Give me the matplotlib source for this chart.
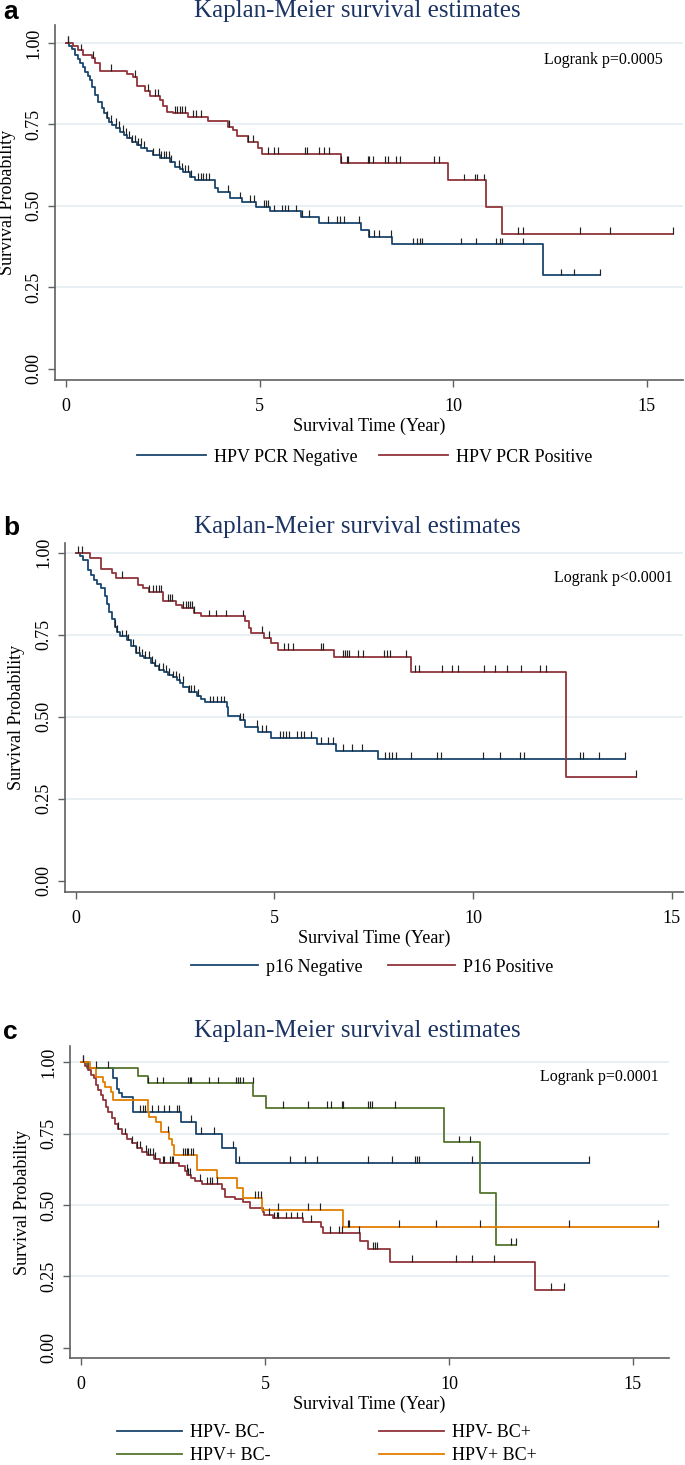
import numpy as np
import matplotlib
matplotlib.use('Agg')
import matplotlib.pyplot as plt

# ---- panel a : HPV PCR ----
a_neg_t = [0.08, 0.15, 0.23, 0.30, 0.37, 0.43, 0.49, 0.56, 0.62, 0.68, 0.75, 0.83, 0.92, 0.98, 1.05,
           1.12, 1.18, 1.29, 1.40, 1.49, 1.57, 1.70, 1.83, 1.95, 2.08, 2.25, 2.43, 2.69, 2.82, 2.95,
           3.03, 3.20, 3.33, 3.85, 3.92, 4.24, 4.55, 4.91, 5.26, 6.08, 6.54, 7.62, 7.82, 8.41, 12.32]
a_neg_s = [0.990, 0.980, 0.963, 0.950, 0.938, 0.925, 0.912, 0.900, 0.887, 0.864, 0.840, 0.820, 0.800,
           0.785, 0.769, 0.758, 0.748, 0.738, 0.728, 0.718, 0.708, 0.697, 0.687, 0.677, 0.667, 0.656,
           0.646, 0.636, 0.620, 0.612, 0.605, 0.590, 0.580, 0.555, 0.544, 0.523, 0.513, 0.498, 0.483,
           0.467, 0.447, 0.426, 0.406, 0.382, 0.287]
a_neg_end = 13.80
a_neg_cens = [0.05, 1.05, 1.15, 1.28, 1.36, 1.48, 1.56, 1.63, 1.71, 1.79, 1.87, 1.94, 2.01, 2.25, 2.40,
              2.46, 2.52, 2.59, 2.65, 2.71, 2.91, 2.99, 3.07, 3.14, 3.22, 3.40, 3.48, 3.55, 3.62, 3.69,
              4.19, 4.50, 4.75, 4.86, 5.11, 5.16, 5.21, 5.37, 5.57, 5.65, 5.73, 5.93, 6.10, 6.29, 6.78,
              7.00, 7.08, 7.17, 7.57, 7.84, 7.97, 8.08, 8.40, 8.97, 9.07, 9.15, 9.20, 10.20, 10.58,
              11.12, 11.20, 11.27, 11.81, 12.78, 13.12, 13.80]

a_pos_t = [0.19, 0.32, 0.45, 0.66, 0.75, 0.88, 1.57, 1.74, 1.83, 2.04, 2.17, 2.43, 2.51, 2.60, 2.77,
           3.16, 3.68, 4.19, 4.32, 4.41, 4.70, 4.96, 5.06, 7.10, 9.87, 10.84, 11.27]
a_pos_s = [0.991, 0.977, 0.963, 0.953, 0.938, 0.915, 0.905, 0.897, 0.868, 0.852, 0.838, 0.825, 0.805,
           0.789, 0.784, 0.772, 0.759, 0.743, 0.733, 0.713, 0.697, 0.677, 0.660, 0.633, 0.578, 0.496,
           0.414]
a_pos_end = 15.69
a_pos_cens = [0.05, 0.38, 0.71, 1.17, 1.79, 2.12, 2.30, 2.38, 2.81, 2.88, 2.94, 3.00, 3.07, 3.27, 3.37,
              3.48, 4.22, 4.70, 4.83, 5.21, 5.37, 5.47, 6.18, 6.22, 6.54, 6.67, 6.80, 7.11, 7.26, 7.29,
              7.80, 7.84, 7.92, 8.23, 8.31, 8.52, 8.64, 9.51, 9.64, 10.27, 10.56, 10.63, 10.81, 11.68,
              11.81, 13.27, 14.06, 15.69]

# ---- panel b : p16 ----
b_neg_t = [0.10, 0.19, 0.30, 0.38, 0.46, 0.55, 0.63, 0.74, 0.80, 0.85, 0.92, 0.98, 1.05, 1.12, 1.29,
           1.40, 1.51, 1.62, 1.73, 1.89, 2.00, 2.11, 2.22, 2.33, 2.44, 2.55, 2.63, 2.71, 2.85, 3.05,
           3.15, 3.26, 3.82, 3.84, 4.14, 4.25, 4.58, 4.92, 6.07, 6.56, 7.61]
b_neg_s = [0.990, 0.979, 0.948, 0.933, 0.918, 0.905, 0.892, 0.867, 0.845, 0.821, 0.798, 0.775, 0.760,
           0.745, 0.733, 0.715, 0.696, 0.687, 0.679, 0.664, 0.654, 0.643, 0.636, 0.628, 0.620, 0.613,
           0.602, 0.592, 0.577, 0.564, 0.554, 0.544, 0.531, 0.503, 0.491, 0.470, 0.455, 0.435, 0.417,
           0.397, 0.372]
b_neg_end = 13.82
b_neg_cens = [0.05, 0.99, 1.05, 1.18, 1.27, 1.31, 1.45, 1.53, 1.59, 1.67, 1.75, 1.84, 1.92, 2.00, 2.11,
              2.19, 2.28, 2.36, 2.44, 2.52, 2.60, 2.69, 2.85, 2.91, 2.99, 3.07, 3.38, 3.46, 3.55, 3.65,
              3.73, 4.14, 4.22, 4.56, 4.69, 4.80, 5.13, 5.22, 5.30, 5.37, 5.57, 5.66, 5.74, 5.92, 6.18,
              6.34, 6.47, 6.73, 6.95, 7.20, 7.79, 7.88, 7.97, 8.05, 8.43, 9.09, 9.20, 10.25, 10.68,
              11.18, 11.27, 12.69, 12.77, 13.16, 13.82]

b_pos_t = [0.35, 0.63, 0.92, 1.01, 1.56, 1.70, 1.84, 2.19, 2.52, 2.68, 2.99, 3.15, 4.25, 4.36, 4.40,
           4.75, 4.92, 5.08, 6.51, 8.43, 12.33]
b_pos_s = [0.984, 0.950, 0.938, 0.923, 0.902, 0.892, 0.882, 0.852, 0.841, 0.831, 0.816, 0.806, 0.791,
           0.770, 0.757, 0.740, 0.725, 0.704, 0.682, 0.636, 0.318]
b_pos_end = 14.09
b_pos_cens = [0.17, 1.18, 1.84, 1.95, 2.03, 2.11, 2.14, 2.33, 2.38, 2.42, 2.71, 2.77, 2.82, 2.88, 2.94,
              2.99, 3.35, 3.54, 3.79, 4.20, 4.69, 4.86, 5.24, 5.35, 5.46, 6.18, 6.23, 6.73, 6.78, 6.84,
              6.89, 7.11, 7.22, 7.77, 7.83, 7.91, 8.30, 8.54, 8.63, 9.22, 9.48, 9.61, 10.28, 10.55,
              10.85, 11.21, 11.68, 11.84, 14.09]

# ---- panel c : HPV x BC ----
c_nn_t = [0.18, 0.86, 0.97, 1.04, 1.10, 1.40, 2.72, 3.125, 3.84, 4.20]
c_nn_s = [0.978, 0.943, 0.906, 0.890, 0.877, 0.826, 0.789, 0.748, 0.700, 0.648]
c_nn_end = 13.80
c_nn_cens = [0.72, 1.60, 1.68, 1.74, 1.92, 2.08, 2.26, 2.39, 2.60, 2.67, 2.98, 3.25, 3.61, 4.14, 4.30,
             5.68, 6.09, 6.42, 7.79, 8.45, 9.08, 9.14, 9.19, 10.62, 13.80]

c_np_t = [0.12, 0.20, 0.26, 0.34, 0.41, 0.47, 0.54, 0.61, 0.68, 0.74, 0.83, 0.92, 1.01, 1.10, 1.24,
          1.38, 1.51, 1.65, 1.79, 1.97, 2.15, 2.65, 2.83, 2.89, 2.98, 3.10, 3.28, 3.82, 3.91, 4.18,
          4.41, 4.59, 4.94, 4.96, 5.23, 6.04, 6.51, 6.57, 7.58, 7.81, 8.41, 12.34]
c_np_s = [0.985, 0.972, 0.955, 0.943, 0.920, 0.902, 0.885, 0.867, 0.844, 0.826, 0.803, 0.782, 0.766,
          0.747, 0.731, 0.716, 0.700, 0.686, 0.675, 0.660, 0.646, 0.638, 0.619, 0.605, 0.596, 0.584,
          0.573, 0.556, 0.529, 0.521, 0.511, 0.490, 0.476, 0.465, 0.453, 0.442, 0.424, 0.401, 0.374,
          0.346, 0.302, 0.203]
c_np_end = 13.12
c_np_cens = [0.05, 1.01, 1.20, 1.38, 1.51, 1.60, 1.77, 1.83, 1.87, 1.96, 2.01, 2.22, 2.26, 2.42, 2.46,
             2.51, 2.87, 2.92, 2.96, 3.23, 3.43, 3.50, 3.55, 3.69, 5.12, 5.25, 5.32, 5.36, 5.57, 5.72,
             5.86, 6.00, 6.25, 6.77, 7.00, 7.08, 7.56, 7.93, 7.99, 8.05, 8.99, 10.19, 10.62, 11.22,
             12.76, 13.12]

c_pn_t = [0.15, 1.56, 1.81, 4.68, 5.03, 9.87, 10.84, 11.27]
c_pn_s = [0.978, 0.952, 0.925, 0.882, 0.840, 0.719, 0.541, 0.360]
c_pn_end = 11.82
c_pn_cens = [0.05, 0.41, 1.82, 2.06, 2.24, 2.92, 2.96, 3.00, 3.49, 3.73, 4.20, 4.27, 4.33, 4.39, 4.67,
             5.48, 6.18, 6.68, 6.79, 7.08, 7.11, 7.81, 7.85, 7.90, 8.53, 10.28, 10.57, 11.68, 11.82]

c_pp_t = [0.24, 0.41, 0.61, 0.65, 0.81, 0.88, 1.81, 1.86, 2.04, 2.17, 2.40, 2.46, 2.54, 3.14, 3.69,
          4.23, 4.41, 4.93, 7.11]
c_pp_s = [0.980, 0.949, 0.929, 0.914, 0.896, 0.867, 0.826, 0.809, 0.789, 0.754, 0.731, 0.710, 0.675,
          0.622, 0.593, 0.561, 0.526, 0.484, 0.423]
c_pp_end = 15.69
c_pp_cens = [2.37, 2.78, 2.83, 2.87, 2.92, 2.98, 3.05, 4.73, 4.82, 4.88, 5.36, 6.18, 6.49, 7.25, 7.29,
             8.65, 9.64, 10.85, 13.27, 15.69]

NAVY = '#1a476f'
MAROON = '#90353b'
GREEN = '#55752f'
ORANGE = '#e37e00'
SERIF = 'Liberation Serif'
plt.rcParams['font.family'] = SERIF


def km_curve(ax, t, s, t_end, cens, color, tick_h, label):
    t = np.asarray(t)
    s = np.asarray(s)
    tt = np.r_[0.0, t, t_end]
    ss = np.r_[1.0, s, s[-1]]
    ax.step(tt, ss, where='post', color=color, lw=1.3, label=label, zorder=3)
    cens = np.asarray(cens)
    idx = np.searchsorted(t, cens, side='right')
    sc = np.r_[1.0, s][idx]
    ax.vlines(cens, sc, sc + tick_h, color='#222222', lw=0.85, zorder=4)


def setup(ax, xlim, ylim, ptext, px):
    ax.set_xlim(*xlim)
    ax.set_ylim(*ylim)
    for y in [0.25, 0.5, 0.75, 1.0]:
        ax.axhline(y, color='#e4eef1', lw=1.2, zorder=1)
    ax.spines[['top', 'right']].set_visible(False)
    for sp in ['left', 'bottom']:
        ax.spines[sp].set_color('#606060')
        ax.spines[sp].set_linewidth(1.2)
    ax.set_xticks([0, 5, 10, 15])
    ax.set_yticks([0, 0.25, 0.5, 0.75, 1.0])
    ax.set_yticklabels(['0.00', '0.25', '0.50', '0.75', '1.00'])
    ax.tick_params(axis='both', colors='#606060', labelcolor='black', labelsize=13,
                   length=5, width=1.0, direction='out')
    ax.tick_params(axis='x', pad=8)
    ax.tick_params(axis='y', pad=4)
    for lab in ax.get_yticklabels():
        lab.set_rotation(90)
        lab.set_va('center')
        lab.set_ha('right')
    ax.set_xlabel('Survival Time (Year)', fontsize=13, labelpad=2)
    ax.set_ylabel('Survival Probability', fontsize=13, labelpad=7)
    ax.text(px, 0.90, ptext, transform=ax.transAxes, ha='right', va='center', fontsize=11.5)


W, H = 685, 1465
fig = plt.figure(figsize=(W / 100, H / 100), dpi=100)

def fx(px):
    return px / W

def fy(py):
    return 1 - py / H

ax_a = fig.add_axes([fx(55), fy(380), fx(628), 355 / H])
ax_b = fig.add_axes([fx(64.7), fy(892), fx(618.3), 349 / H])
ax_c = fig.add_axes([fx(70), fy(1358), fx(599), 312 / H])

# panel a
km_curve(ax_a, a_neg_t, a_neg_s, a_neg_end, a_neg_cens, NAVY, 0.021, 'HPV PCR Negative')
km_curve(ax_a, a_pos_t, a_pos_s, a_pos_end, a_pos_cens, MAROON, 0.021, 'HPV PCR Positive')
setup(ax_a, (-0.284, 15.94), (-0.034, 1.055), 'Logrank p=0.0005', 0.967)

# panel b
km_curve(ax_b, b_neg_t, b_neg_s, b_neg_end, b_neg_cens, NAVY, 0.021, 'p16 Negative')
km_curve(ax_b, b_pos_t, b_pos_s, b_pos_end, b_pos_cens, MAROON, 0.021, 'P16 Positive')
setup(ax_b, (-0.274, 15.28), (-0.034, 1.030), 'Logrank p<0.0001', 0.984)

# panel c
km_curve(ax_c, c_nn_t, c_nn_s, c_nn_end, c_nn_cens, NAVY, 0.024, 'HPV- BC-')
km_curve(ax_c, c_pn_t, c_pn_s, c_pn_end, c_pn_cens, GREEN, 0.024, 'HPV+ BC-')
km_curve(ax_c, c_np_t, c_np_s, c_np_end, c_np_cens, MAROON, 0.024, 'HPV- BC+')
km_curve(ax_c, c_pp_t, c_pp_s, c_pp_end, c_pp_cens, ORANGE, 0.024, 'HPV+ BC+')
setup(ax_c, (-0.30, 15.98), (-0.035, 1.056), 'Logrank p=0.0001', 0.983)

# titles and panel letters
for py, letter in [(11, 'a'), (527, 'b'), (1031, 'c')]:
    fig.text(fx(357), fy(py), 'Kaplan-Meier survival estimates', ha='center', va='center',
             fontsize=18, color='#1c3463')
    fig.text(fx(3), fy(py + 1), letter, ha='left', va='center', fontsize=19,
             fontweight='bold', family='Liberation Sans')

leg_kw = dict(frameon=False, fontsize=13, borderpad=0, borderaxespad=0, handletextpad=0.45)
h, l = ax_a.get_legend_handles_labels()
fig.legend(h, l, loc='center left', bbox_to_anchor=(fx(137), fy(457)), ncol=2,
           handlelength=3.8, columnspacing=1.2, **leg_kw)
h, l = ax_b.get_legend_handles_labels()
fig.legend(h, l, loc='center left', bbox_to_anchor=(fx(191), fy(967)), ncol=2,
           handlelength=3.7, columnspacing=1.4, **leg_kw)
h, l = ax_c.get_legend_handles_labels()
fig.legend(h, l, loc='center left', bbox_to_anchor=(fx(117), fy(1444)), ncol=2,
           handlelength=3.6, columnspacing=6.0, labelspacing=0.35, **leg_kw)

fig.savefig('out.png', dpi=100)
